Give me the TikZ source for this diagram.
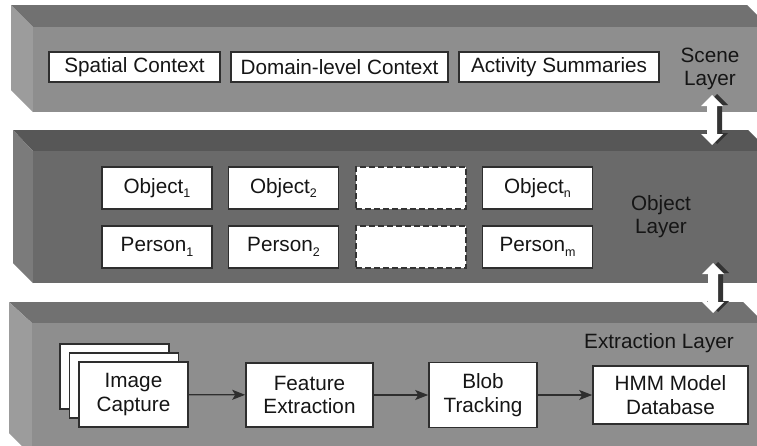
\documentclass[tikz,border=0pt]{standalone}
\usepackage{fontspec}
\setmainfont{Liberation Sans}
\usetikzlibrary{arrows.meta}

\definecolor{topA}{HTML}{717171}
\definecolor{frontA}{HTML}{8E8E8E}
\definecolor{sideA}{HTML}{9C9C9C}
\definecolor{topB}{HTML}{575757}
\definecolor{frontB}{HTML}{6A6A6A}
\definecolor{sideB}{HTML}{7B7B7B}
\definecolor{edgegray}{HTML}{2E2E2E}
\definecolor{inkgray}{HTML}{151515}
\definecolor{shadowgray}{HTML}{333333}

\newcommand\lowidx[1]{\raisebox{-0.45ex}{\fontsize{12.5}{12.5}\selectfont #1}}

\begin{document}
\begin{tikzpicture}[x=1pt,y=-1pt,
  txt/.style={font=\fontsize{20.7}{23.5}\selectfont, text=inkgray, align=center, inner sep=0pt},
  box/.style={txt, draw=edgegray, line width=1.6pt, fill=white},
  ctxbox/.style={box, minimum height=30pt},
  entbox/.style={box, minimum width=110pt, minimum height=42pt},
  gapbox/.style={entbox, draw=shadowgray, dashed, dash pattern=on 6pt off 3pt, line width=1.4pt},
  procbox/.style={box, minimum height=65pt},
  flow/.style={draw=edgegray, line width=1.3pt, -{Stealth[length=13pt,width=10pt,inset=3pt]}},
  pics/updown/.style={code={
    \fill[shadowgray] (5,-26) -- (16,-15) -- (10,-15) -- (10,13) -- (16,13) -- (5,24)
      -- (-6,13) -- (0,13) -- (0,-15) -- (-6,-15) -- cycle;
    \fill[white] (0,-25) -- (11,-14) -- (5,-14) -- (5,14) -- (11,14) -- (0,25)
      -- (-11,14) -- (-5,14) -- (-5,-14) -- (-11,-14) -- cycle;
  }}]
\useasboundingbox (0,0) rectangle (757,445);
\fill[white] (0,0) rectangle (757,445);

\begin{scope}
\clip (0,0) rectangle (757,445);
% scene slab
\fill[topA] (11,5) -- (747,5) -- (769,27) -- (33,27) -- cycle;
\fill[sideA] (11,5) -- (33,27) -- (33,112) -- (11,90) -- cycle;
\fill[frontA] (33,27) rectangle (770,112);
% object slab
\fill[topB] (13,130) -- (748,130) -- (769,151) -- (33,151) -- cycle;
\fill[sideB] (13,130) -- (33,151) -- (33,283) -- (13,263) -- cycle;
\fill[frontB] (33,151) rectangle (770,283);
% extraction slab
\fill[topA] (9,302) -- (743,302) -- (764,323) -- (32,323) -- cycle;
\fill[sideA] (9,302) -- (32,323) -- (32,456) -- (9,433) -- cycle;
\fill[frontA] (32,323) rectangle (770,456);
\end{scope}

% scene layer contents
\node[ctxbox, minimum width=171pt] (spatial) at (134.5,67) {Spatial Context};
\node[ctxbox, minimum width=217pt] (domain) at (339.5,67) {Domain-level Context};
\node[ctxbox, minimum width=200pt] (activity) at (559,67) {Activity Summaries};
\node[txt] (scenelbl) at (710,69) {Scene\\Layer};

% object layer contents
\node[entbox] (obj1) at (157,188) {Object\lowidx{1}};
\node[entbox] (obj2) at (283.5,188) {Object\lowidx{2}};
\node[gapbox] (objdots) at (411,188) {};
\node[entbox] (objn) at (537.5,188) {Object\lowidx{n}};
\node[entbox] (per1) at (157,247) {Person\lowidx{1}};
\node[entbox] (per2) at (283.5,247) {Person\lowidx{2}};
\node[gapbox] (perdots) at (411,247) {};
\node[entbox] (perm) at (537.5,247) {Person\lowidx{m}};
\node[txt] (objectlbl) at (661,216.5) {Object\\Layer};

% extraction layer contents
\node[txt] (extractlbl) at (659,343) {Extraction Layer};
\node[procbox, minimum width=109pt] (cap3) at (114.5,376.5) {};
\node[procbox, minimum width=109pt] (cap2) at (124,385.5) {};
\node[procbox, minimum width=109pt] (cap) at (133.5,394.5) {Image\\Capture};
\node[procbox, minimum width=127pt, minimum height=64pt] (feat) at (309.5,395) {Feature\\Extraction};
\node[procbox, minimum width=108pt] (blob) at (483,395) {Blob\\Tracking};
\node[procbox, minimum width=155pt, minimum height=58pt] (hmm) at (670.5,395) {HMM Model\\Database};

\draw[flow] (cap) -- (feat);
\draw[flow] (feat) -- (blob);
\draw[flow] (blob) -- (hmm);

% links between layers
\pic at (712,120) {updown};
\pic at (713,288) {updown};
\end{tikzpicture}
\end{document}
